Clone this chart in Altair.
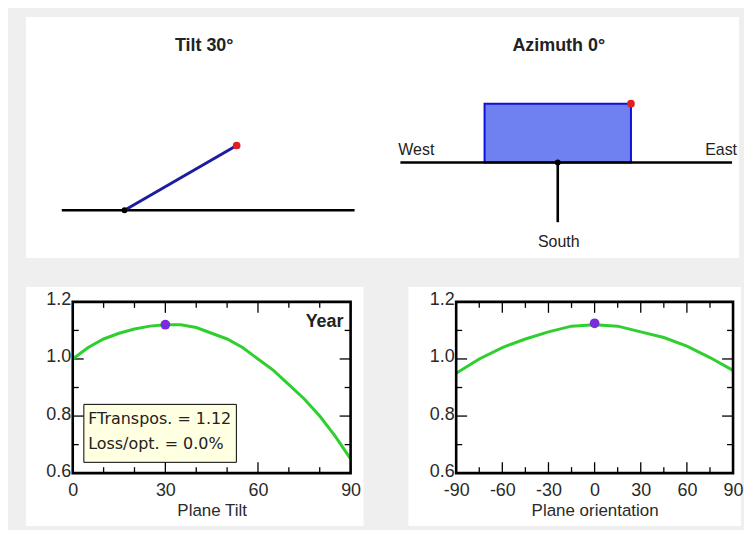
import math
import altair as alt
import pandas as pd

# ---------------- data ----------------
TILT = 30
AZIMUTH = 0

tilt_deg = [0, 5, 10, 15, 20, 25, 30, 35, 40, 45, 50, 55, 60, 65, 70, 75, 80, 85, 90]
tilt_f = [1.00, 1.04, 1.07, 1.09, 1.105, 1.115, 1.12, 1.12, 1.11, 1.09, 1.07, 1.04,
          1.00, 0.96, 0.91, 0.86, 0.80, 0.73, 0.65]
orient_deg = [-90, -75, -60, -45, -30, -15, 0, 15, 30, 45, 60, 75, 90]
orient_f = [0.95, 1.00, 1.04, 1.07, 1.095, 1.115, 1.12, 1.115, 1.095, 1.075, 1.045, 1.005, 0.96]

opt_tilt = [30]
opt_tilt_f = [1.12]
opt_orient = [0]
opt_orient_f = [1.125]

ftranspos = 1.12
loss_opt = 0.0
season = "Year"

tilt_ticks_major = [0, 30, 60, 90]
tilt_ticks_minor = [10, 20, 40, 50, 70, 80]
orient_ticks_major = [-90, -60, -30, 0, 30, 60, 90]
orient_ticks_minor = [-75, -45, -15, 15, 45, 75]
f_ticks_major = [0.6, 0.8, 1.0, 1.2]
f_ticks_minor = [0.7, 0.9, 1.1]

# schematic geometry (diagram units)
horizon_tilt = [-6.3, 23.1]
plane_len = 13.0
az_center = [43.5, 4.8]
horizon_az = [27.7, 61.0]
az_half_width = 7.35
az_depth = 5.9
south_len = 6.0

# ---------------- style ----------------
FONT = "Liberation Sans"
BOX_FONT = "DejaVu Sans"
BG = "#efefef"
GREEN = "#2fcf2f"
PURPLE = "#7a2be0"
TXT = "#2a2a2a"

W, H = 279, 172
W2 = 278
TOP_W, TOP_H = 669, 242


def one():
    return pd.DataFrame({"a": [0]})


def plot(xvals, yvals, px, py, dom, xmaj, xmin, xtitle, w, left_ext, right_ext, extra):
    xs = alt.Scale(domain=dom, nice=False, zero=False)
    ys = alt.Scale(domain=[0.6, 1.2], nice=False, zero=False)
    ax_x = alt.Axis(values=xmaj, ticks=False, domain=False, grid=False,
                    labelExpr="replace(datum.label, '\u2212', '-')",
                    labelFont=FONT, labelFontSize=18, labelColor=TXT, labelPadding=8,
                    labelFlush=False, title=xtitle, titleFont=FONT, titleFontSize=17,
                    titleFontWeight="normal", titleColor=TXT, titlePadding=4, zindex=1)
    ax_y = alt.Axis(values=f_ticks_major, format=".1f", ticks=False, domain=False, grid=False,
                    labelFont=FONT, labelFontSize=18, labelColor=TXT, labelPadding=2,
                    labelOffset=-2, labelFlush=False, title=None, zindex=1)

    def X(f):
        return alt.X(f, scale=xs, axis=ax_x)

    def Y(f):
        return alt.Y(f, scale=ys, axis=ax_y)

    bg = alt.Chart(one()).mark_rect(fill="white").encode(
        x=alt.value(-left_ext), x2=alt.value(w + right_ext),
        y=alt.value(-15), y2=alt.value(H + 53))

    layers = [bg]

    def xt(vals, length, side):
        m = alt.Chart(pd.DataFrame({"v": vals})).mark_rule(color="black", strokeWidth=1.3)
        if side == "top":
            return m.encode(x=X("v:Q"), y=alt.value(0), y2=alt.value(length))
        return m.encode(x=X("v:Q"), y=alt.value(H), y2=alt.value(H - length))

    def yt(vals, length, side):
        m = alt.Chart(pd.DataFrame({"v": vals})).mark_rule(color="black", strokeWidth=1.3)
        if side == "left":
            return m.encode(y=Y("v:Q"), x=alt.value(0), x2=alt.value(length))
        return m.encode(y=Y("v:Q"), x=alt.value(w), x2=alt.value(w - length))

    for side in ("top", "bottom"):
        layers.append(xt(xmaj, 11, side))
        layers.append(xt(xmin, 6, side))
    for side in ("left", "right"):
        layers.append(yt(f_ticks_major, 11, side))
        layers.append(yt(f_ticks_minor, 6, side))

    frame = alt.Chart(one()).mark_rect(fillOpacity=0, stroke="black", strokeWidth=2.6).encode(
        x=alt.value(0), x2=alt.value(w), y=alt.value(0), y2=alt.value(H))

    df = pd.DataFrame({"x": xvals, "y": yvals})
    line = alt.Chart(df).mark_line(color=GREEN, strokeWidth=3).encode(x=X("x:Q"), y=Y("y:Q"))

    pdf = pd.DataFrame({"x": px, "y": py})
    pt = alt.Chart(pdf).mark_point(filled=True, color=PURPLE, size=95, opacity=1).encode(
        x=X("x:Q"), y=Y("y:Q"))

    layers += [line] + extra(X, Y) + [pt, frame]
    return alt.layer(*layers).properties(width=w, height=H)


def left_extra(X, Y):
    box = pd.DataFrame({"x": [3.6], "x2": [53.0], "y": [0.841], "y2": [0.638]})
    rect = alt.Chart(box).mark_rect(fill="#ffffe1", stroke="black", strokeWidth=1).encode(
        x=X("x:Q"), x2="x2:Q", y=Y("y:Q"), y2="y2:Q")
    txt = pd.DataFrame({"x": [5.0, 5.0], "y": [0.789, 0.701],
                        "t": [f"FTranspos. = {ftranspos:.2f}", f"Loss/opt. = {loss_opt:.1f}%"]})
    text = alt.Chart(txt).mark_text(align="left", baseline="middle", font=BOX_FONT,
                                    fontSize=16, color="#222222").encode(
        x=X("x:Q"), y=Y("y:Q"), text="t:N")
    yr = pd.DataFrame({"x": [87.7], "y": [1.13], "t": [season]})
    year = alt.Chart(yr).mark_text(align="right", baseline="middle", font=FONT,
                                   fontSize=18, fontWeight="bold", color="#222222").encode(
        x=X("x:Q"), y=Y("y:Q"), text="t:N")
    return [rect, text, year]


left = plot(tilt_deg, tilt_f, opt_tilt, opt_tilt_f, [0, 90], tilt_ticks_major,
            tilt_ticks_minor, "Plane Tilt", W, 47, 13, left_extra)
right = plot(orient_deg, orient_f, opt_orient, opt_orient_f, [-90, 90],
             orient_ticks_major, orient_ticks_minor,
             "Plane orientation", W2, 48, 8, lambda X, Y: [])

# ---------------- top schematic ----------------
txs = alt.Scale(domain=[-5.2, 61.7], nice=False, zero=False)
tys = alt.Scale(domain=[-4.8, 19.4], nice=False, zero=False)


def tx(f):
    return alt.X(f, scale=txs, axis=None)


def ty(f):
    return alt.Y(f, scale=tys, axis=None)


top_bg = alt.Chart(one()).mark_rect(fill="white").encode(
    x=alt.value(-47), x2=alt.value(TOP_W), y=alt.value(0), y2=alt.value(TOP_H))

t = math.radians(TILT)
end = (plane_len * math.cos(t), plane_len * math.sin(t))

segs_black = pd.DataFrame({
    "x": [horizon_tilt[0], horizon_az[0], az_center[0]],
    "x2": [horizon_tilt[1], horizon_az[1], az_center[0]],
    "y": [0, az_center[1], az_center[1]],
    "y2": [0, az_center[1], az_center[1] - south_len],
})
black_lines = alt.Chart(segs_black).mark_rule(color="black", strokeWidth=2.6).encode(
    x=tx("x:Q"), x2="x2:Q", y=ty("y:Q"), y2="y2:Q")

plane = alt.Chart(pd.DataFrame({"x": [0], "x2": [end[0]], "y": [0], "y2": [end[1]]})).mark_rule(
    color="#1c1ca0", strokeWidth=3).encode(x=tx("x:Q"), x2="x2:Q", y=ty("y:Q"), y2="y2:Q")

a = math.radians(AZIMUTH)
rect_df = pd.DataFrame({
    "x": [az_center[0] - az_half_width * math.cos(a)],
    "x2": [az_center[0] + az_half_width * math.cos(a)],
    "y": [az_center[1]], "y2": [az_center[1] + az_depth]})
az_rect = alt.Chart(rect_df).mark_rect(fill="#6f80f0", stroke="#1010d8", strokeWidth=2).encode(
    x=tx("x:Q"), x2="x2:Q", y=ty("y:Q"), y2="y2:Q")

black_dots = alt.Chart(pd.DataFrame({"x": [0, az_center[0]], "y": [0, az_center[1]]})).mark_point(
    filled=True, color="black", size=35, opacity=1).encode(x=tx("x:Q"), y=ty("y:Q"))
red_dots = alt.Chart(pd.DataFrame({
    "x": [end[0], az_center[0] + az_half_width],
    "y": [end[1], az_center[1] + az_depth]})).mark_point(
    filled=True, color="#e02020", size=60, opacity=1).encode(x=tx("x:Q"), y=ty("y:Q"))

titles = alt.Chart(pd.DataFrame({
    "x": [8.0, 43.6], "y": [16.5, 16.5],
    "t": [f"Tilt {TILT}°", f"Azimuth {AZIMUTH}°"]})).mark_text(
    font=FONT, fontSize=18, fontWeight="bold", color="#222222", baseline="middle").encode(
    x=tx("x:Q"), y=ty("y:Q"), text="t:N")

labels = alt.Chart(pd.DataFrame({
    "x": [29.3, 59.9, 43.6], "y": [6.0, 6.0, -3.2],
    "t": ["West", "East", "South"]})).mark_text(
    font=FONT, fontSize=16, color="#222222", baseline="middle").encode(
    x=tx("x:Q"), y=ty("y:Q"), text="t:N")

top = alt.layer(top_bg, az_rect, black_lines, plane, black_dots, red_dots, titles, labels).properties(
    width=TOP_W, height=TOP_H)

bottom = alt.hconcat(left, right, spacing=106, bounds="flush")

chart = alt.vconcat(top, bottom, spacing=44, bounds="flush").properties(
    background=BG,
    padding={"left": 18, "top": 8, "right": 0, "bottom": 3},
).configure_view(stroke=None)

chart.save("out.html", embed_options={"renderer": "svg", "actions": False})
